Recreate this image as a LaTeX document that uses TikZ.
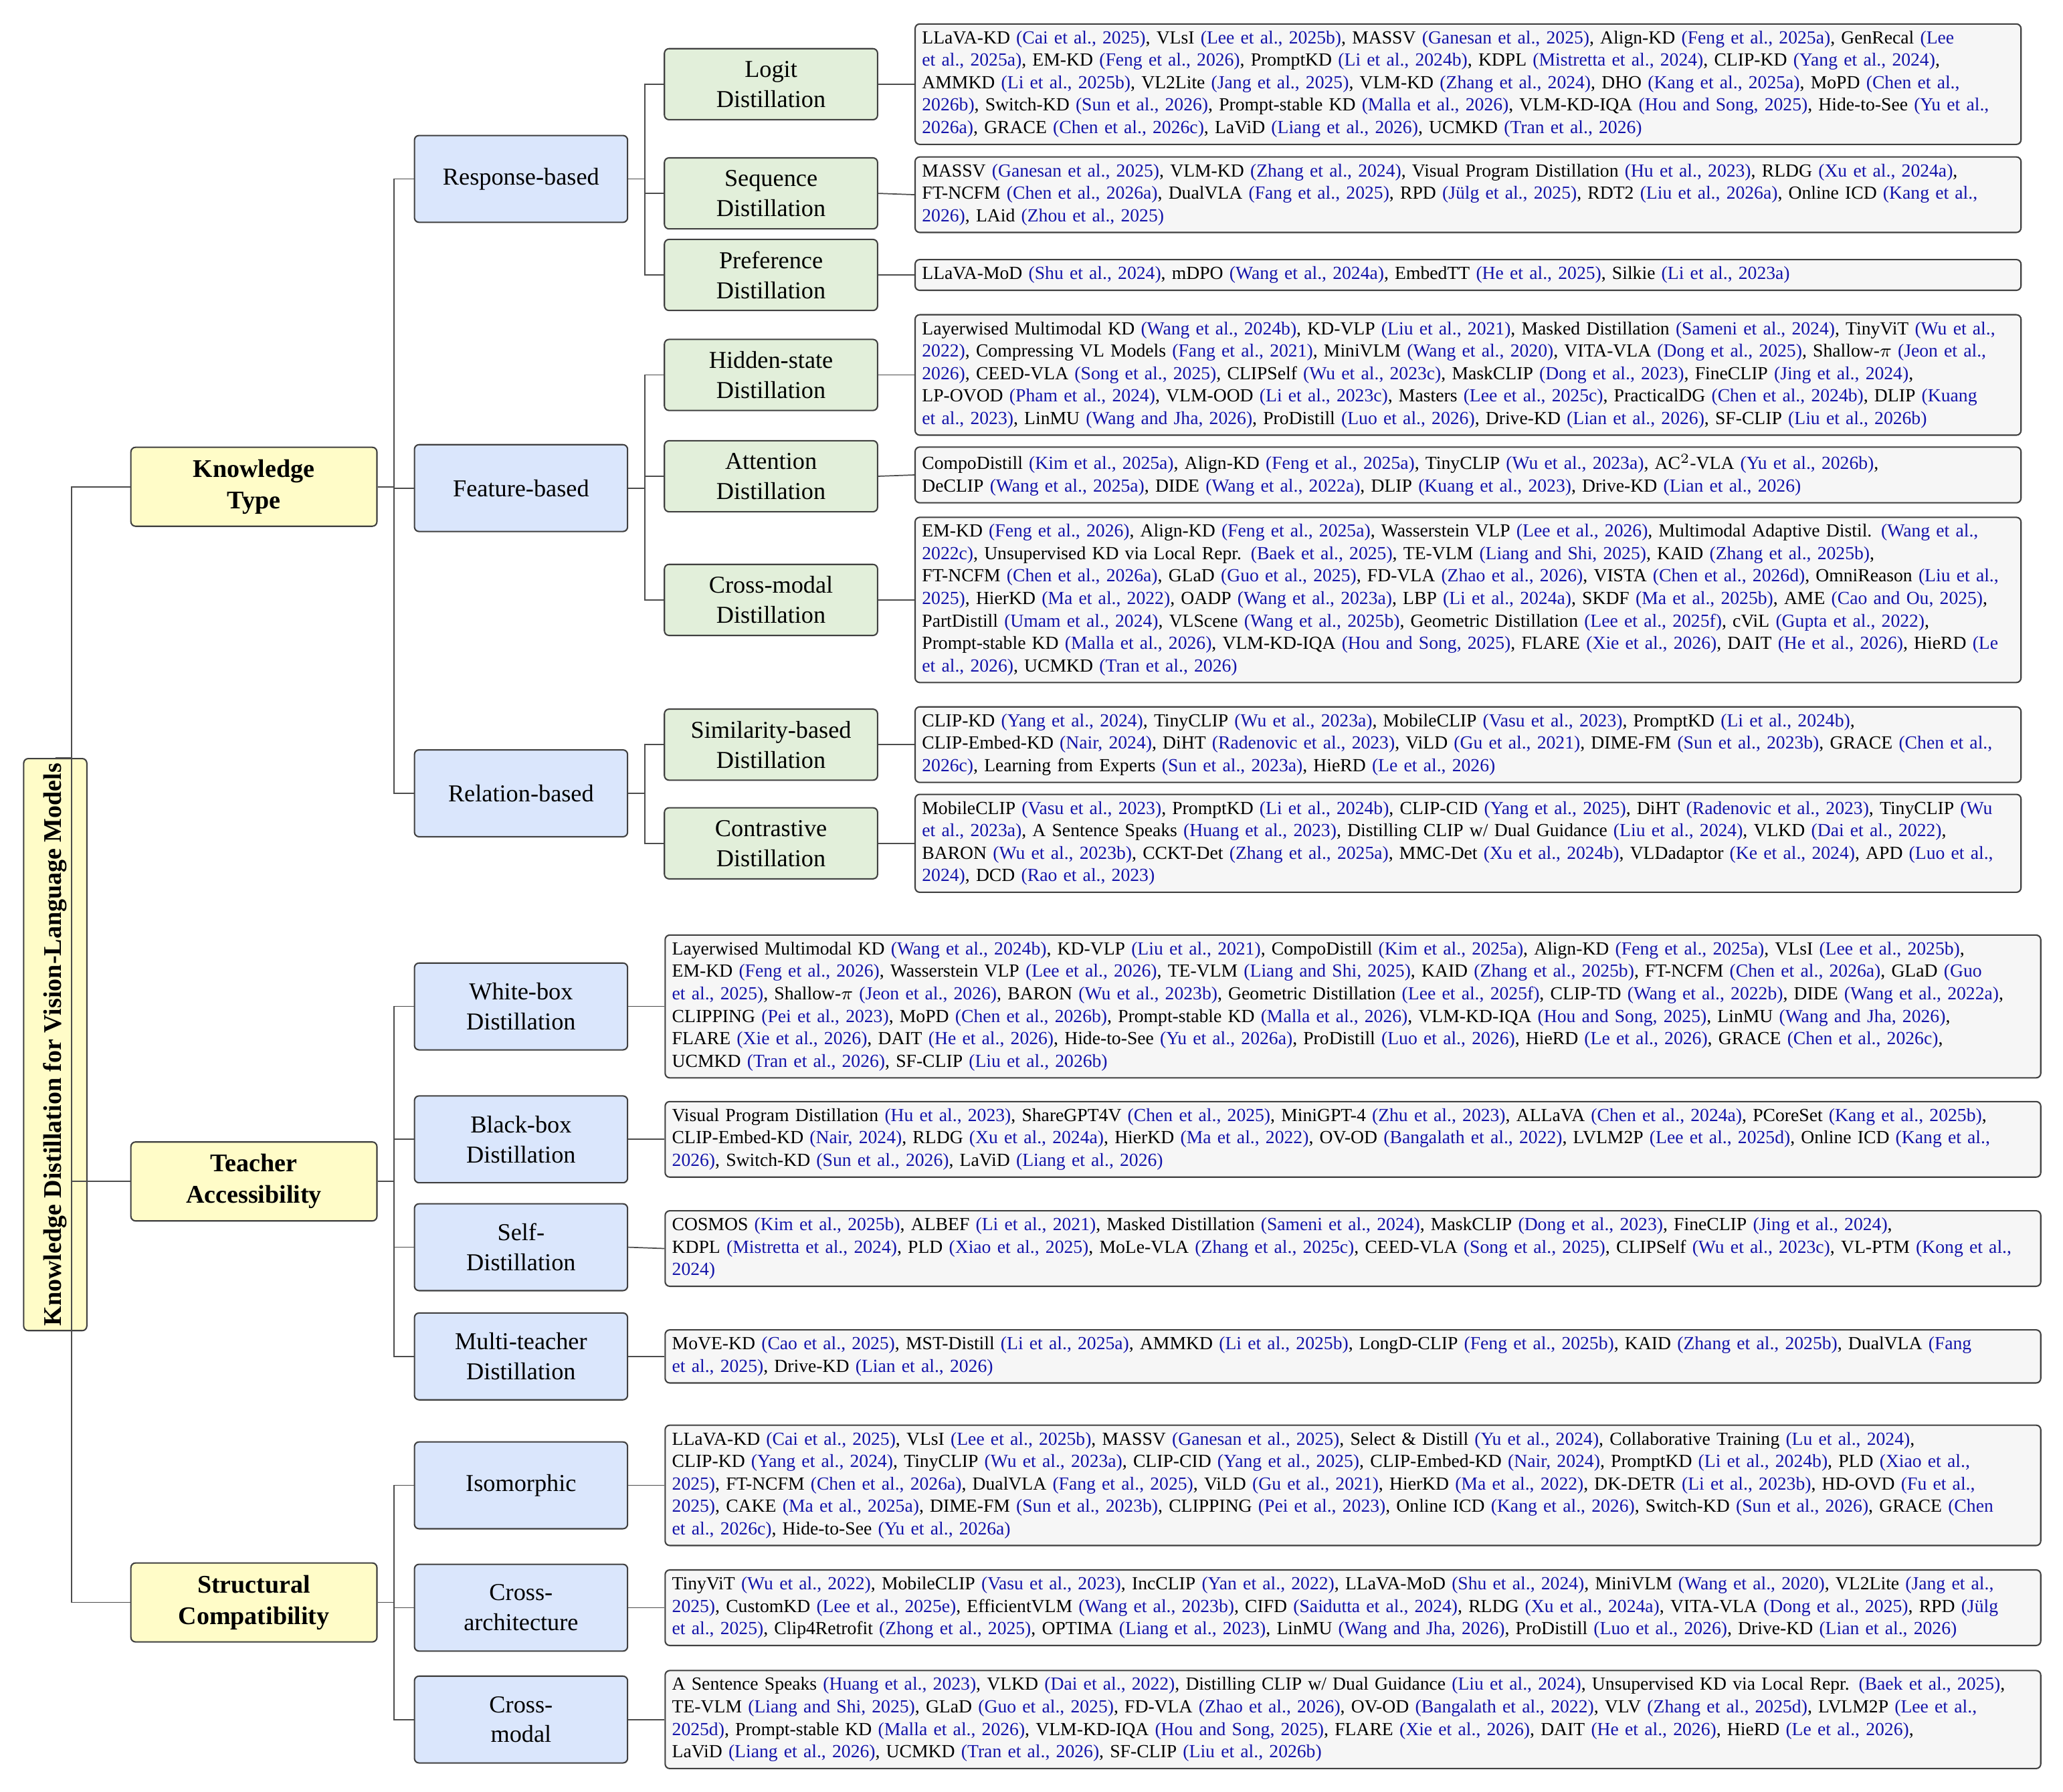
\documentclass[tikz,border=0pt]{standalone}
\usepackage{fontspec}
\setmainfont{Liberation Serif}
\usepackage{color}
\definecolor{myyellow}{RGB}{255,252,200}
\definecolor{myblue}{RGB}{218,230,252}
\definecolor{mygreen}{RGB}{226,239,218}
\definecolor{myleaf}{RGB}{246,246,246}
\definecolor{mycite}{RGB}{20,20,170}
\usetikzlibrary{positioning}
\newcommand{\ct}[1]{{\color{mycite}#1}}
\tikzstyle{box}=[draw=black!75,rounded corners=2pt,line width=0.6pt,align=center,inner sep=2pt]
\tikzstyle{rootnode}=[box,fill=myyellow,minimum width=8.64cm,minimum height=0.96cm,rotate=90,font=\fontsize{11}{13}\selectfont\bfseries]
\tikzstyle{kind}=[box,fill=myyellow,minimum width=3.74cm,minimum height=1.2cm,font=\fontsize{11}{13.5}\selectfont\bfseries]
\tikzstyle{group}=[box,fill=myblue,minimum width=3.24cm,minimum height=1.32cm,font=\fontsize{10.5}{13}\selectfont]
\tikzstyle{method}=[box,fill=mygreen,minimum width=3.24cm,minimum height=1.08cm,font=\fontsize{10.5}{13}\selectfont]
\tikzstyle{leaf}=[box,fill=myleaf,anchor=west,align=left,inner sep=3pt,font=\fontsize{8}{9.7}\selectfont]
\tikzstyle{link}=[draw=black!70,line width=0.5pt]
\begin{document}
\begin{tikzpicture}
\useasboundingbox (0,0) rectangle (31.36,27.24);
% root and knowledge kinds
\node[rootnode] (root) at (0.84,11.36) {Knowledge Distillation for Vision-Language Models};
\node[kind] (kt) at (3.86,19.84) {Knowledge\\Type};
\node[kind] (ta) at (3.86,9.28) {Teacher\\Accessibility};
\node[kind] (sc) at (3.86,2.88) {Structural\\Compatibility};
% groups
\node[group] (resp) at (7.92,24.52) {Response-based};
\node[group] (feat) at (7.92,19.82) {Feature-based};
\node[group] (rel) at (7.92,15.18) {Relation-based};
\node[group] (white) at (7.92,11.94) {White-box\\Distillation};
\node[group] (black) at (7.92,9.92) {Black-box\\Distillation};
\node[group] (self) at (7.92,8.28) {Self-\\Distillation};
\node[group] (multi) at (7.92,6.62) {Multi-teacher\\Distillation};
\node[group] (iso) at (7.92,4.66) {Isomorphic};
\node[group] (arch) at (7.92,2.80) {Cross-\\architecture};
\node[group] (xmod) at (7.92,1.10) {Cross-\\modal};
% methods
\node[method] (logit) at (11.72,25.96) {Logit\\Distillation};
\node[method] (seq) at (11.72,24.30) {Sequence\\Distillation};
\node[method] (pref) at (11.72,23.06) {Preference\\Distillation};
\node[method] (hid) at (11.72,21.54) {Hidden-state\\Distillation};
\node[method] (att) at (11.72,20.00) {Attention\\Distillation};
\node[method] (cmd) at (11.72,18.12) {Cross-modal\\Distillation};
\node[method] (sim) at (11.72,15.92) {Similarity-based\\Distillation};
\node[method] (con) at (11.72,14.42) {Contrastive\\Distillation};
% leaves
\tikzset{every node/.append style={text width=16.6cm}}
\node[leaf] (logitL) at (13.9,25.96) {LLaVA-KD \ct{(Cai et al., 2025)}, VLsI \ct{(Lee et al., 2025b)}, MASSV \ct{(Ganesan et al., 2025)}, Align-KD \ct{(Feng et al., 2025a)}, GenRecal \ct{(Lee}\\\ct{et al., 2025a)}, EM-KD \ct{(Feng et al., 2026)}, PromptKD \ct{(Li et al., 2024b)}, KDPL \ct{(Mistretta et al., 2024)}, CLIP-KD \ct{(Yang et al., 2024)},\\AMMKD \ct{(Li et al., 2025b)}, VL2Lite \ct{(Jang et al., 2025)}, VLM-KD \ct{(Zhang et al., 2024)}, DHO \ct{(Kang et al., 2025a)}, MoPD \ct{(Chen et al.,}\\\ct{2026b)}, Switch-KD \ct{(Sun et al., 2026)}, Prompt-stable KD \ct{(Malla et al., 2026)}, VLM-KD-IQA \ct{(Hou and Song, 2025)}, Hide-to-See \ct{(Yu et al.,}\\\ct{2026a)}, GRACE \ct{(Chen et al., 2026c)}, LaViD \ct{(Liang et al., 2026)}, UCMKD \ct{(Tran et al., 2026)}};
\node[leaf] (seqL) at (13.9,24.28) {MASSV \ct{(Ganesan et al., 2025)}, VLM-KD \ct{(Zhang et al., 2024)}, Visual Program Distillation \ct{(Hu et al., 2023)}, RLDG \ct{(Xu et al., 2024a)},\\FT-NCFM \ct{(Chen et al., 2026a)}, DualVLA \ct{(Fang et al., 2025)}, RPD \ct{(Jülg et al., 2025)}, RDT2 \ct{(Liu et al., 2026a)}, Online ICD \ct{(Kang et al.,}\\\ct{2026)}, LAid \ct{(Zhou et al., 2025)}};
\node[leaf] (prefL) at (13.9,23.06) {LLaVA-MoD \ct{(Shu et al., 2024)}, mDPO \ct{(Wang et al., 2024a)}, EmbedTT \ct{(He et al., 2025)}, Silkie \ct{(Li et al., 2023a)}};
\node[leaf] (hidL) at (13.9,21.54) {Layerwised Multimodal KD \ct{(Wang et al., 2024b)}, KD-VLP \ct{(Liu et al., 2021)}, Masked Distillation \ct{(Sameni et al., 2024)}, TinyViT \ct{(Wu et al.,}\\\ct{2022)}, Compressing VL Models \ct{(Fang et al., 2021)}, MiniVLM \ct{(Wang et al., 2020)}, VITA-VLA \ct{(Dong et al., 2025)}, Shallow-$\pi$ \ct{(Jeon et al.,}\\\ct{2026)}, CEED-VLA \ct{(Song et al., 2025)}, CLIPSelf \ct{(Wu et al., 2023c)}, MaskCLIP \ct{(Dong et al., 2023)}, FineCLIP \ct{(Jing et al., 2024)},\\LP-OVOD \ct{(Pham et al., 2024)}, VLM-OOD \ct{(Li et al., 2023c)}, Masters \ct{(Lee et al., 2025c)}, PracticalDG \ct{(Chen et al., 2024b)}, DLIP \ct{(Kuang}\\\ct{et al., 2023)}, LinMU \ct{(Wang and Jha, 2026)}, ProDistill \ct{(Luo et al., 2026)}, Drive-KD \ct{(Lian et al., 2026)}, SF-CLIP \ct{(Liu et al., 2026b)}};
\node[leaf] (attL) at (13.9,20.02) {CompoDistill \ct{(Kim et al., 2025a)}, Align-KD \ct{(Feng et al., 2025a)}, TinyCLIP \ct{(Wu et al., 2023a)}, AC$^2$-VLA \ct{(Yu et al., 2026b)},\\DeCLIP \ct{(Wang et al., 2025a)}, DIDE \ct{(Wang et al., 2022a)}, DLIP \ct{(Kuang et al., 2023)}, Drive-KD \ct{(Lian et al., 2026)}};
\node[leaf] (cmdL) at (13.9,18.12) {EM-KD \ct{(Feng et al., 2026)}, Align-KD \ct{(Feng et al., 2025a)}, Wasserstein VLP \ct{(Lee et al., 2026)}, Multimodal Adaptive Distil. \ct{(Wang et al.,}\\\ct{2022c)}, Unsupervised KD via Local Repr. \ct{(Baek et al., 2025)}, TE-VLM \ct{(Liang and Shi, 2025)}, KAID \ct{(Zhang et al., 2025b)},\\FT-NCFM \ct{(Chen et al., 2026a)}, GLaD \ct{(Guo et al., 2025)}, FD-VLA \ct{(Zhao et al., 2026)}, VISTA \ct{(Chen et al., 2026d)}, OmniReason \ct{(Liu et al.,}\\\ct{2025)}, HierKD \ct{(Ma et al., 2022)}, OADP \ct{(Wang et al., 2023a)}, LBP \ct{(Li et al., 2024a)}, SKDF \ct{(Ma et al., 2025b)}, AME \ct{(Cao and Ou, 2025)},\\PartDistill \ct{(Umam et al., 2024)}, VLScene \ct{(Wang et al., 2025b)}, Geometric Distillation \ct{(Lee et al., 2025f)}, cViL \ct{(Gupta et al., 2022)},\\Prompt-stable KD \ct{(Malla et al., 2026)}, VLM-KD-IQA \ct{(Hou and Song, 2025)}, FLARE \ct{(Xie et al., 2026)}, DAIT \ct{(He et al., 2026)}, HieRD \ct{(Le}\\\ct{et al., 2026)}, UCMKD \ct{(Tran et al., 2026)}};
\node[leaf] (simL) at (13.9,15.92) {CLIP-KD \ct{(Yang et al., 2024)}, TinyCLIP \ct{(Wu et al., 2023a)}, MobileCLIP \ct{(Vasu et al., 2023)}, PromptKD \ct{(Li et al., 2024b)},\\CLIP-Embed-KD \ct{(Nair, 2024)}, DiHT \ct{(Radenovic et al., 2023)}, ViLD \ct{(Gu et al., 2021)}, DIME-FM \ct{(Sun et al., 2023b)}, GRACE \ct{(Chen et al.,}\\\ct{2026c)}, Learning from Experts \ct{(Sun et al., 2023a)}, HieRD \ct{(Le et al., 2026)}};
\node[leaf] (conL) at (13.9,14.42) {MobileCLIP \ct{(Vasu et al., 2023)}, PromptKD \ct{(Li et al., 2024b)}, CLIP-CID \ct{(Yang et al., 2025)}, DiHT \ct{(Radenovic et al., 2023)}, TinyCLIP \ct{(Wu}\\\ct{et al., 2023a)}, A Sentence Speaks \ct{(Huang et al., 2023)}, Distilling CLIP w/ Dual Guidance \ct{(Liu et al., 2024)}, VLKD \ct{(Dai et al., 2022)},\\BARON \ct{(Wu et al., 2023b)}, CCKT-Det \ct{(Zhang et al., 2025a)}, MMC-Det \ct{(Xu et al., 2024b)}, VLDadaptor \ct{(Ke et al., 2024)}, APD \ct{(Luo et al.,}\\\ct{2024)}, DCD \ct{(Rao et al., 2023)}};
\tikzset{every node/.append style={text width=20.7cm}}
\node[leaf] (whiteL) at (10.1,11.94) {Layerwised Multimodal KD \ct{(Wang et al., 2024b)}, KD-VLP \ct{(Liu et al., 2021)}, CompoDistill \ct{(Kim et al., 2025a)}, Align-KD \ct{(Feng et al., 2025a)}, VLsI \ct{(Lee et al., 2025b)},\\EM-KD \ct{(Feng et al., 2026)}, Wasserstein VLP \ct{(Lee et al., 2026)}, TE-VLM \ct{(Liang and Shi, 2025)}, KAID \ct{(Zhang et al., 2025b)}, FT-NCFM \ct{(Chen et al., 2026a)}, GLaD \ct{(Guo}\\\ct{et al., 2025)}, Shallow-$\pi$ \ct{(Jeon et al., 2026)}, BARON \ct{(Wu et al., 2023b)}, Geometric Distillation \ct{(Lee et al., 2025f)}, CLIP-TD \ct{(Wang et al., 2022b)}, DIDE \ct{(Wang et al., 2022a)},\\CLIPPING \ct{(Pei et al., 2023)}, MoPD \ct{(Chen et al., 2026b)}, Prompt-stable KD \ct{(Malla et al., 2026)}, VLM-KD-IQA \ct{(Hou and Song, 2025)}, LinMU \ct{(Wang and Jha, 2026)},\\FLARE \ct{(Xie et al., 2026)}, DAIT \ct{(He et al., 2026)}, Hide-to-See \ct{(Yu et al., 2026a)}, ProDistill \ct{(Luo et al., 2026)}, HieRD \ct{(Le et al., 2026)}, GRACE \ct{(Chen et al., 2026c)},\\UCMKD \ct{(Tran et al., 2026)}, SF-CLIP \ct{(Liu et al., 2026b)}};
\node[leaf] (blackL) at (10.1,9.92) {Visual Program Distillation \ct{(Hu et al., 2023)}, ShareGPT4V \ct{(Chen et al., 2025)}, MiniGPT-4 \ct{(Zhu et al., 2023)}, ALLaVA \ct{(Chen et al., 2024a)}, PCoreSet \ct{(Kang et al., 2025b)},\\CLIP-Embed-KD \ct{(Nair, 2024)}, RLDG \ct{(Xu et al., 2024a)}, HierKD \ct{(Ma et al., 2022)}, OV-OD \ct{(Bangalath et al., 2022)}, LVLM2P \ct{(Lee et al., 2025d)}, Online ICD \ct{(Kang et al.,}\\\ct{2026)}, Switch-KD \ct{(Sun et al., 2026)}, LaViD \ct{(Liang et al., 2026)}};
\node[leaf] (selfL) at (10.1,8.26) {COSMOS \ct{(Kim et al., 2025b)}, ALBEF \ct{(Li et al., 2021)}, Masked Distillation \ct{(Sameni et al., 2024)}, MaskCLIP \ct{(Dong et al., 2023)}, FineCLIP \ct{(Jing et al., 2024)},\\KDPL \ct{(Mistretta et al., 2024)}, PLD \ct{(Xiao et al., 2025)}, MoLe-VLA \ct{(Zhang et al., 2025c)}, CEED-VLA \ct{(Song et al., 2025)}, CLIPSelf \ct{(Wu et al., 2023c)}, VL-PTM \ct{(Kong et al.,}\\\ct{2024)}};
\node[leaf] (multiL) at (10.1,6.62) {MoVE-KD \ct{(Cao et al., 2025)}, MST-Distill \ct{(Li et al., 2025a)}, AMMKD \ct{(Li et al., 2025b)}, LongD-CLIP \ct{(Feng et al., 2025b)}, KAID \ct{(Zhang et al., 2025b)}, DualVLA \ct{(Fang}\\\ct{et al., 2025)}, Drive-KD \ct{(Lian et al., 2026)}};
\node[leaf] (isoL) at (10.1,4.66) {LLaVA-KD \ct{(Cai et al., 2025)}, VLsI \ct{(Lee et al., 2025b)}, MASSV \ct{(Ganesan et al., 2025)}, Select \& Distill \ct{(Yu et al., 2024)}, Collaborative Training \ct{(Lu et al., 2024)},\\CLIP-KD \ct{(Yang et al., 2024)}, TinyCLIP \ct{(Wu et al., 2023a)}, CLIP-CID \ct{(Yang et al., 2025)}, CLIP-Embed-KD \ct{(Nair, 2024)}, PromptKD \ct{(Li et al., 2024b)}, PLD \ct{(Xiao et al.,}\\\ct{2025)}, FT-NCFM \ct{(Chen et al., 2026a)}, DualVLA \ct{(Fang et al., 2025)}, ViLD \ct{(Gu et al., 2021)}, HierKD \ct{(Ma et al., 2022)}, DK-DETR \ct{(Li et al., 2023b)}, HD-OVD \ct{(Fu et al.,}\\\ct{2025)}, CAKE \ct{(Ma et al., 2025a)}, DIME-FM \ct{(Sun et al., 2023b)}, CLIPPING \ct{(Pei et al., 2023)}, Online ICD \ct{(Kang et al., 2026)}, Switch-KD \ct{(Sun et al., 2026)}, GRACE \ct{(Chen}\\\ct{et al., 2026c)}, Hide-to-See \ct{(Yu et al., 2026a)}};
\node[leaf] (archL) at (10.1,2.80) {TinyViT \ct{(Wu et al., 2022)}, MobileCLIP \ct{(Vasu et al., 2023)}, IncCLIP \ct{(Yan et al., 2022)}, LLaVA-MoD \ct{(Shu et al., 2024)}, MiniVLM \ct{(Wang et al., 2020)}, VL2Lite \ct{(Jang et al.,}\\\ct{2025)}, CustomKD \ct{(Lee et al., 2025e)}, EfficientVLM \ct{(Wang et al., 2023b)}, CIFD \ct{(Saidutta et al., 2024)}, RLDG \ct{(Xu et al., 2024a)}, VITA-VLA \ct{(Dong et al., 2025)}, RPD \ct{(Jülg}\\\ct{et al., 2025)}, Clip4Retrofit \ct{(Zhong et al., 2025)}, OPTIMA \ct{(Liang et al., 2023)}, LinMU \ct{(Wang and Jha, 2026)}, ProDistill \ct{(Luo et al., 2026)}, Drive-KD \ct{(Lian et al., 2026)}};
\node[leaf] (xmodL) at (10.1,1.10) {A Sentence Speaks \ct{(Huang et al., 2023)}, VLKD \ct{(Dai et al., 2022)}, Distilling CLIP w/ Dual Guidance \ct{(Liu et al., 2024)}, Unsupervised KD via Local Repr. \ct{(Baek et al., 2025)},\\TE-VLM \ct{(Liang and Shi, 2025)}, GLaD \ct{(Guo et al., 2025)}, FD-VLA \ct{(Zhao et al., 2026)}, OV-OD \ct{(Bangalath et al., 2022)}, VLV \ct{(Zhang et al., 2025d)}, LVLM2P \ct{(Lee et al.,}\\\ct{2025d)}, Prompt-stable KD \ct{(Malla et al., 2026)}, VLM-KD-IQA \ct{(Hou and Song, 2025)}, FLARE \ct{(Xie et al., 2026)}, DAIT \ct{(He et al., 2026)}, HieRD \ct{(Le et al., 2026)},\\LaViD \ct{(Liang et al., 2026)}, UCMKD \ct{(Tran et al., 2026)}, SF-CLIP \ct{(Liu et al., 2026b)}};
% connectors
\foreach \p/\c in {root/kt,root/ta,root/sc,kt/resp,kt/feat,kt/rel,ta/white,ta/black,ta/self,ta/multi,sc/iso,sc/arch,sc/xmod,resp/logit,resp/seq,resp/pref,feat/hid,feat/att,feat/cmd,rel/sim,rel/con}
  \draw[link] (\p.east) -- ++(0.25,0) |- (\c.west);
\foreach \c in {logit,seq,pref,hid,att,cmd,sim,con,white,black,self,multi,iso,arch,xmod}
  \draw[link] (\c.east) -- (\c L.west);
\end{tikzpicture}
\end{document}
